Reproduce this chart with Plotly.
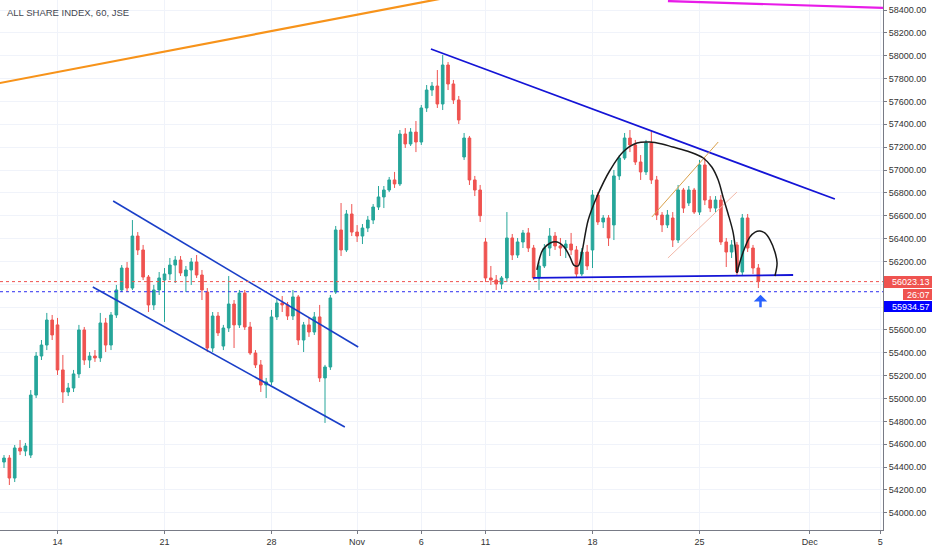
import plotly.graph_objects as go

# ---------------- data (2-hour bars, bar index 0 = first bar shown) ----------------
bar_open = [54444, 54479, 54304, 54567, 54540, 54505, 55030, 55372, 55468, 55687,
            55644, 55250, 55057, 55092, 55215, 55600, 55337, 55372, 55355, 55661,
            55468, 55731, 55950, 56142, 55967, 56422, 56300, 56063, 55819, 55950,
            56037, 56090, 56168, 56212, 56072, 56125, 56195, 56081, 55932, 55442,
            55722, 55459, 55617, 55827, 55644, 55923, 55626, 55398, 55294, 55118,
            55145, 55714, 55836, 55819, 55722, 55889, 55512, 55644, 55582, 55714,
            55180, 55276, 55932, 56475, 56300, 56615, 56457, 56422, 56492, 56562,
            56676, 56764, 56825, 56913, 56878, 57315, 57228, 57332, 57245, 57543,
            57700, 57735, 57578, 57919, 57753, 57613, 57114, 57280, 56913, 56825,
            56370, 56055, 56037, 56002, 56055, 56405, 56256, 56370, 56449, 56317,
            56055, 56160, 56317, 56422, 56335, 56317, 56352, 56300, 56090, 56282,
            56300, 56781, 56545, 56580, 56519, 56948, 57105, 57280, 57219, 57070,
            56983, 57237, 56913, 56606, 56519, 56580, 56387, 56825, 56711, 56825,
            56632, 57044, 56737, 56667, 56737, 56370, 56282, 56344, 56107, 56580,
            56317, 56142]
bar_high = [54505, 54505, 54593, 54637, 54611, 55074, 55407, 55512, 55749, 55731,
            55705, 55381, 55136, 55250, 55644, 55626, 55407, 55424, 55749, 55705,
            55757, 55994, 56168, 56195, 56562, 56457, 56344, 56081, 55994, 56107,
            56142, 56230, 56247, 56247, 56160, 56230, 56256, 56125, 55967, 55757,
            55757, 55644, 56072, 55862, 55950, 55950, 55670, 55424, 55337, 55180,
            55775, 55880, 55897, 55845, 55950, 55906, 55670, 55705, 55757, 55819,
            55294, 55906, 56510, 56711, 56650, 56702, 56518, 56527, 56597, 56702,
            56860, 56860, 56939, 56983, 57350, 57367, 57367, 57429, 57569, 57744,
            57770, 57875, 58007, 57945, 57788, 57648, 57324, 57298, 56948, 56869,
            56405, 56160, 56081, 56072, 56632, 56440, 56405, 56475, 56492, 56344,
            56195, 56352, 56492, 56457, 56405, 56387, 56449, 56335, 56317, 56344,
            56825, 56807, 56606, 56606, 57000, 57131, 57324, 57350, 57263, 57131,
            57263, 57341, 56948, 56632, 56650, 56632, 56869, 56843, 56860, 56843,
            57088, 57105, 56772, 56772, 56781, 56405, 56387, 56370, 56615, 56615,
            56344, 56177]
bar_low = [54392, 54243, 54269, 54505, 54496, 54479, 55004, 55337, 55424, 55512,
           55206, 54961, 55022, 55057, 55180, 55294, 55267, 55320, 55320, 55407,
           55424, 55705, 55932, 55932, 55950, 56256, 56037, 55757, 55775, 55906,
           55670, 56037, 56011, 56072, 55932, 55994, 56055, 55862, 55407, 55407,
           55547, 55424, 55582, 55442, 55617, 55600, 55381, 55267, 55057, 55004,
           55118, 55687, 55757, 55687, 55687, 55468, 55407, 55539, 55556, 55145,
           54786, 55250, 55915, 56247, 56282, 56422, 56370, 56352, 56457, 56527,
           56650, 56667, 56807, 56843, 56860, 57193, 57210, 57157, 57219, 57508,
           57648, 57543, 57525, 57700, 57578, 57403, 57088, 56869, 56772, 56545,
           56020, 55994, 55950, 55958, 56020, 56212, 56230, 56317, 56282, 56037,
           55950, 56142, 56247, 56300, 56247, 56230, 56256, 56055, 56072, 56125,
           56142, 56519, 56492, 56335, 56387, 56913, 57088, 57157, 57044, 56913,
           56956, 56878, 56562, 56457, 56492, 56326, 56361, 56624, 56685, 56615,
           56606, 56693, 56632, 56632, 56344, 56151, 56230, 56081, 56072, 56282,
           56090, 55967]
bar_close = [54479, 54304, 54567, 54540, 54584, 55030, 55372, 55468, 55687, 55556,
             55250, 55057, 55092, 55215, 55600, 55337, 55372, 55355, 55661, 55468,
             55731, 55950, 56142, 55967, 56422, 56300, 56063, 55819, 55950, 56055,
             56090, 56168, 56212, 56099, 56125, 56195, 56081, 55950, 55442, 55722,
             55574, 55617, 55827, 55644, 55923, 55626, 55398, 55294, 55118, 55145,
             55714, 55836, 55819, 55722, 55889, 55512, 55644, 55582, 55714, 55180,
             55276, 55880, 56475, 56300, 56615, 56457, 56422, 56492, 56562, 56676,
             56764, 56825, 56913, 56878, 57315, 57228, 57332, 57245, 57543, 57700,
             57735, 57578, 57919, 57753, 57613, 57438, 57280, 56913, 56825, 56600,
             56055, 56037, 56002, 56055, 56405, 56256, 56370, 56449, 56317, 56055,
             56160, 56317, 56422, 56335, 56317, 56352, 56300, 56090, 56282, 56160,
             56781, 56545, 56580, 56405, 56948, 57105, 57280, 57219, 57070, 56983,
             57237, 56913, 56606, 56519, 56606, 56387, 56825, 56667, 56825, 56632,
             57044, 56737, 56667, 56737, 56370, 56282, 56344, 56107, 56580, 56317,
             56142, 56023.13]

# x-axis day labels (bar index where each day starts)
tick_bars = [10, 30, 50, 66, 78, 90, 110, 130, 150.6, 163.8]
tick_text = ["14", "21", "28", "Nov", "6", "11", "18", "25", "Dec", "5"]
price_ticks = list(range(54000, 58401, 200))
hidden_price_ticks = [56000, 55800]   # covered by the price labels in the reference

last_price = 56023.13
blue_price = 55934.57
countdown = "26:07"

# drawings: anchor points (bar index, price)
orange_trend = ([-4.5, 85.2], [57728, 58531])
magenta_trend = ([124.1, 167.5], [58479, 58415])
resistance = ([79.8, 155.3], [58059, 56746])
neckline = ([98.9, 147.5], [56055, 56081])
channel_upper = ([20.4, 66.2], [56729, 55451])
channel_lower = ([16.6, 63.7], [55976, 54751])
flag_upper = ([121.1, 133.5], [56589, 57245])
flag_lower = ([124.1, 137.0], [56230, 56807])
hs_bars = [99.6, 100.7, 102.1, 103.4, 104.7, 105.8, 106.5, 107.3, 108.0, 109.2,
           110.8, 113.3, 115.7, 118.3, 120.7, 123.0, 125.0, 128.2, 130.7, 132.3,
           133.5, 134.4, 135.3, 136.3, 136.8, 137.0]
hs_prices = [56125, 56300, 56361, 56370, 56326, 56238, 56168, 56160, 56274, 56562,
             56764, 57000, 57158, 57236, 57245, 57228, 57201, 57158, 57105, 57026,
             56912, 56764, 56624, 56449, 56256, 56098]
rs_bars = [137.0, 138.1, 139.4, 140.4, 141.3, 142.2, 143.2, 144.1, 144.5, 144.1]
rs_prices = [56098, 56274, 56413, 56457, 56466, 56449, 56387, 56282, 56186, 56072]
arrow_point = (141.4, 55935)

# ---------------- figure ----------------
UP, DOWN = "#26a69a", "#ef5350"
FONT = "Liberation Sans"
fig = go.Figure()

fig.add_trace(go.Candlestick(
    x=list(range(len(bar_close))), open=bar_open, high=bar_high, low=bar_low, close=bar_close,
    increasing=dict(line=dict(color=UP, width=1), fillcolor=UP),
    decreasing=dict(line=dict(color=DOWN, width=1), fillcolor=DOWN),
    whiskerwidth=0, showlegend=False, hoverinfo="skip"))

def line(xs, ys, color, width, shape="linear"):
    fig.add_trace(go.Scatter(x=xs, y=ys, mode="lines", showlegend=False, hoverinfo="skip",
                             line=dict(color=color, width=width, shape=shape)))

line(*orange_trend, "#f7931a", 2.2)
line(*magenta_trend, "#e81ce8", 2.2)
line(*resistance, "#1414d6", 1.8)
line(*neckline, "#1414d6", 1.8)
line(*channel_upper, "#1a3fc8", 1.6)
line(*channel_lower, "#1a3fc8", 1.6)
line(*flag_upper, "#d9a04a", 1.0)
line(*flag_lower, "#f2b8a8", 1.0)
line(hs_bars, hs_prices, "#1a1a1a", 1.5, "spline")
line(rs_bars, rs_prices, "#1a1a1a", 1.5, "spline")

# horizontal price lines
fig.add_shape(type="line", xref="paper", x0=0, x1=1, yref="y", y0=last_price, y1=last_price,
              line=dict(color="#ef5350", width=1, dash="dot"))
fig.add_shape(type="line", xref="paper", x0=0, x1=1, yref="y", y0=blue_price, y1=blue_price,
              line=dict(color="#2d2df0", width=1, dash="dot"))

RIGHT_EDGE = 932 / 883  # right edge of the page in plot-paper units
lab_font = dict(family=FONT, size=9, color="white")
ann = []
ann.append(dict(xref="paper", yref="paper", x=0.0, y=1.0, xanchor="left", yanchor="top",
                xshift=5, yshift=-5, text="ALL SHARE INDEX, 60, JSE", showarrow=False,
                font=dict(family=FONT, size=9.5, color="#434651")))
ann.append(dict(xref="paper", yref="y", x=RIGHT_EDGE, y=last_price, xanchor="right",
                yanchor="middle", text=f"{last_price:.2f} ", showarrow=False,
                bgcolor="#ef5350", width=48, height=12, align="right", borderpad=0,
                borderwidth=0, font=lab_font))
ann.append(dict(xref="paper", yref="y", x=RIGHT_EDGE, y=last_price, xanchor="right",
                yanchor="middle", yshift=-13, text=f"{countdown} ", showarrow=False,
                bgcolor="#ef5350", width=29, height=11, align="right", borderpad=0,
                borderwidth=0, font=lab_font))
ann.append(dict(xref="paper", yref="y", x=RIGHT_EDGE, y=blue_price, xanchor="right",
                yanchor="middle", yshift=-15, text=f"{blue_price:.2f} ", showarrow=False,
                bgcolor="#0000ff", width=48, height=11, align="right", borderpad=0,
                borderwidth=0, font=lab_font))
ann.append(dict(x=arrow_point[0], y=arrow_point[1], ax=0, ay=14, text="", showarrow=True,
                arrowhead=1, arrowsize=0.9, arrowwidth=2.5, arrowcolor="#2962ff",
                yshift=-3))

fig.update_layout(
    width=932, height=550,
    margin=dict(l=0, r=49, t=0, b=20),
    paper_bgcolor="white", plot_bgcolor="white",
    annotations=ann,
    xaxis=dict(range=[-0.75, 164.3], tickmode="array", tickvals=tick_bars, ticktext=tick_text,
               showgrid=True, gridcolor="#f0f3fa", gridwidth=1, zeroline=False,
               rangeslider=dict(visible=False), ticks="outside", ticklen=3, tickcolor="#787b86",
               showline=True, linecolor="#787b86", linewidth=1,
               tickfont=dict(family=FONT, size=9, color="#333333")),
    yaxis=dict(range=[53849, 58488], side="right", tickmode="array", tickvals=price_ticks,
               ticktext=["" if v in hidden_price_ticks else f"{v:.2f}" for v in price_ticks],
               showgrid=True, gridcolor="#f0f3fa", gridwidth=1, zeroline=False,
               ticks="outside", ticklen=3, tickcolor="#787b86",
               showline=True, linecolor="#787b86", linewidth=1,
               tickfont=dict(family=FONT, size=9, color="#333333")),
)

fig.write_html("out.html", config={"displayModeBar": False},
               post_script="document.body.style.margin='0px';document.body.style.overflow='hidden';")
